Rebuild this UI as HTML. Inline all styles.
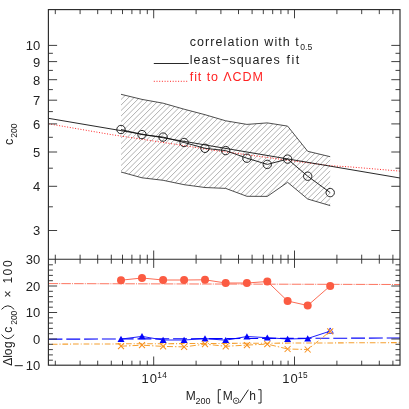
<!DOCTYPE html><html><head><meta charset="utf-8"><style>html,body{margin:0;padding:0;background:#fff}body{width:409px;height:409px;position:relative;overflow:hidden;font-family:"Liberation Sans",sans-serif}</style></head><body><svg width="409" height="409" viewBox="0 0 409 409" style="position:absolute;left:0;top:0;will-change:transform">
<defs><pattern id="h" width="2.7" height="2.7" patternUnits="userSpaceOnUse"><path d="M-0.5,3.2 L3.2,-0.5 M-0.5,0.5 L0.5,-0.5 M2.2,3.2 L3.2,2.2" stroke="#555" stroke-width="0.5" fill="none"/></pattern></defs>
<clipPath id="cp"><polygon points="121.0,94.3 142.0,99.4 163.1,103.2 184.1,109.2 205.0,114.7 225.7,120.8 246.9,124.4 267.3,122.9 287.6,126.1 307.7,151.3 330.2,156.7 330.2,205.6 307.7,199.0 287.6,182.3 267.3,196.4 246.9,196.3 225.7,188.4 205.0,187.5 184.1,184.7 163.1,180.3 142.0,177.8 121.0,172.0"/></clipPath>
<path d="M144.1,60.0 L-25.9,230.0 M149.6,60.0 L-20.4,230.0 M155.1,60.0 L-14.9,230.0 M160.6,60.0 L-9.4,230.0 M166.1,60.0 L-3.9,230.0 M171.6,60.0 L1.6,230.0 M177.1,60.0 L7.1,230.0 M182.6,60.0 L12.6,230.0 M188.1,60.0 L18.1,230.0 M193.6,60.0 L23.6,230.0 M199.1,60.0 L29.1,230.0 M204.6,60.0 L34.6,230.0 M210.1,60.0 L40.1,230.0 M215.6,60.0 L45.6,230.0 M221.1,60.0 L51.1,230.0 M226.6,60.0 L56.6,230.0 M232.1,60.0 L62.1,230.0 M237.6,60.0 L67.6,230.0 M243.1,60.0 L73.1,230.0 M248.6,60.0 L78.6,230.0 M254.1,60.0 L84.1,230.0 M259.6,60.0 L89.6,230.0 M265.1,60.0 L95.1,230.0 M270.6,60.0 L100.6,230.0 M276.1,60.0 L106.1,230.0 M281.6,60.0 L111.6,230.0 M287.1,60.0 L117.1,230.0 M292.6,60.0 L122.6,230.0 M298.1,60.0 L128.1,230.0 M303.6,60.0 L133.6,230.0 M309.1,60.0 L139.1,230.0 M314.6,60.0 L144.6,230.0 M320.1,60.0 L150.1,230.0 M325.6,60.0 L155.6,230.0 M331.1,60.0 L161.1,230.0 M336.6,60.0 L166.6,230.0 M342.1,60.0 L172.1,230.0 M347.6,60.0 L177.6,230.0 M353.1,60.0 L183.1,230.0 M358.6,60.0 L188.6,230.0 M364.1,60.0 L194.1,230.0 M369.6,60.0 L199.6,230.0 M375.1,60.0 L205.1,230.0 M380.6,60.0 L210.6,230.0 M386.1,60.0 L216.1,230.0 M391.6,60.0 L221.6,230.0 M397.1,60.0 L227.1,230.0 M402.6,60.0 L232.6,230.0 M408.1,60.0 L238.1,230.0 M413.6,60.0 L243.6,230.0 M419.1,60.0 L249.1,230.0 M424.6,60.0 L254.6,230.0 M430.1,60.0 L260.1,230.0 M435.6,60.0 L265.6,230.0 M441.1,60.0 L271.1,230.0 M446.6,60.0 L276.6,230.0 M452.1,60.0 L282.1,230.0 M457.6,60.0 L287.6,230.0 M463.1,60.0 L293.1,230.0 M468.6,60.0 L298.6,230.0 M474.1,60.0 L304.1,230.0 M479.6,60.0 L309.6,230.0 M485.1,60.0 L315.1,230.0 M490.6,60.0 L320.6,230.0 M496.1,60.0 L326.1,230.0" stroke="#606060" stroke-width="0.5" fill="none" clip-path="url(#cp)"/>
<polyline points="121.0,94.3 142.0,99.4 163.1,103.2 184.1,109.2 205.0,114.7 225.7,120.8 246.9,124.4 267.3,122.9 287.6,126.1 307.7,151.3 330.2,156.7" fill="none" stroke="#222" stroke-width="0.8"/>
<polyline points="121.0,172.0 142.0,177.8 163.1,180.3 184.1,184.7 205.0,187.5 225.7,188.4 246.9,196.3 267.3,196.4 287.6,182.3 307.7,199.0 330.2,205.6" fill="none" stroke="#222" stroke-width="0.8"/>
<polyline points="48.5,123.8 110.0,134.4 190.0,146.5 210.0,149.8 287.8,160.2 309.0,163.0 330.0,165.7 350.0,166.9 400.0,171.1" fill="none" stroke="#f22" stroke-width="1" stroke-dasharray="1,1.7"/>
<line x1="48.4" y1="118.3" x2="400" y2="178" stroke="#111" stroke-width="0.9"/>
<polyline points="121.0,129.5 142.0,134.6 163.1,137.1 184.1,142.5 205.0,148.3 225.7,150.6 246.9,158.2 267.3,164.4 287.6,159.1 307.7,176.2 330.2,192.6" fill="none" stroke="#111" stroke-width="0.9"/>
<circle cx="121.0" cy="129.5" r="4.2" fill="none" stroke="#111" stroke-width="0.9"/>
<circle cx="142.0" cy="134.6" r="4.2" fill="none" stroke="#111" stroke-width="0.9"/>
<circle cx="163.1" cy="137.1" r="4.2" fill="none" stroke="#111" stroke-width="0.9"/>
<circle cx="184.1" cy="142.5" r="4.2" fill="none" stroke="#111" stroke-width="0.9"/>
<circle cx="205.0" cy="148.3" r="4.2" fill="none" stroke="#111" stroke-width="0.9"/>
<circle cx="225.7" cy="150.6" r="4.2" fill="none" stroke="#111" stroke-width="0.9"/>
<circle cx="246.9" cy="158.2" r="4.2" fill="none" stroke="#111" stroke-width="0.9"/>
<circle cx="267.3" cy="164.4" r="4.2" fill="none" stroke="#111" stroke-width="0.9"/>
<circle cx="287.6" cy="159.1" r="4.2" fill="none" stroke="#111" stroke-width="0.9"/>
<circle cx="307.7" cy="176.2" r="4.2" fill="none" stroke="#111" stroke-width="0.9"/>
<circle cx="330.2" cy="192.6" r="4.2" fill="none" stroke="#111" stroke-width="0.9"/>
<line x1="48.5" y1="283.6" x2="400" y2="284.5" stroke="#fb5b42" stroke-width="0.85" stroke-dasharray="9.6,1.1,1,1.1"/>
<line x1="48.5" y1="339.2" x2="400" y2="338" stroke="#0505fa" stroke-width="1.1" stroke-dasharray="13.9,3.9"/>
<line x1="48.5" y1="344.2" x2="400" y2="342.6" stroke="#f5a030" stroke-width="1.05" stroke-dasharray="5.7,2,1,1.9" stroke-dashoffset="7.3"/>
<polyline points="121.0,280.2 142.0,278.0 163.1,280.0 184.1,280.0 205.0,279.8 225.7,283.0 246.9,283.0 267.3,281.5 287.6,301.0 307.7,305.5 330.2,285.9" fill="none" stroke="#fb5b42" stroke-width="0.9"/>
<circle cx="121.0" cy="280.2" r="4" fill="#fb5b42"/>
<circle cx="142.0" cy="278.0" r="4" fill="#fb5b42"/>
<circle cx="163.1" cy="280.0" r="4" fill="#fb5b42"/>
<circle cx="184.1" cy="280.0" r="4" fill="#fb5b42"/>
<circle cx="205.0" cy="279.8" r="4" fill="#fb5b42"/>
<circle cx="225.7" cy="283.0" r="4" fill="#fb5b42"/>
<circle cx="246.9" cy="283.0" r="4" fill="#fb5b42"/>
<circle cx="267.3" cy="281.5" r="4" fill="#fb5b42"/>
<circle cx="287.6" cy="301.0" r="4" fill="#fb5b42"/>
<circle cx="307.7" cy="305.5" r="4" fill="#fb5b42"/>
<circle cx="330.2" cy="285.9" r="4" fill="#fb5b42"/>
<polyline points="121.0,339.1 142.0,336.4 163.1,340.0 184.1,340.0 205.0,338.6 225.7,340.2 246.9,336.5 267.3,337.7 287.6,339.0 307.7,338.5 330.2,331.1" fill="none" stroke="#0505fa" stroke-width="0.9"/>
<polygon points="121.0,335.8 117.5,342.0 124.5,342.0" fill="#0505fa"/>
<polygon points="142.0,333.1 138.5,339.3 145.5,339.3" fill="#0505fa"/>
<polygon points="163.1,336.7 159.6,342.9 166.6,342.9" fill="#0505fa"/>
<polygon points="184.1,336.7 180.6,342.9 187.6,342.9" fill="#0505fa"/>
<polygon points="205.0,335.3 201.5,341.5 208.5,341.5" fill="#0505fa"/>
<polygon points="225.7,336.9 222.2,343.1 229.2,343.1" fill="#0505fa"/>
<polygon points="246.9,333.2 243.4,339.4 250.4,339.4" fill="#0505fa"/>
<polygon points="267.3,334.4 263.8,340.6 270.8,340.6" fill="#0505fa"/>
<polygon points="287.6,335.7 284.1,341.9 291.1,341.9" fill="#0505fa"/>
<polygon points="307.7,335.2 304.2,341.4 311.2,341.4" fill="#0505fa"/>
<polygon points="330.2,327.9 327.1,333.3 333.3,333.3" fill="none" stroke="#0505fa" stroke-width="0.8"/>
<polyline points="121.0,346.2 142.0,345.2 163.1,346.4 184.1,346.9 205.0,344.1 225.7,346.3 246.9,345.1 267.3,344.1 287.6,349.0 307.7,349.5 330.2,331.3" fill="none" stroke="#f5a030" stroke-width="1" stroke-dasharray="6,2,1.5,2"/>
<path d="M118.0,343.2 l6,6 m0,-6 l-6,6" stroke="#f8901c" stroke-width="1.05" fill="none"/>
<path d="M139.0,342.2 l6,6 m0,-6 l-6,6" stroke="#f8901c" stroke-width="1.05" fill="none"/>
<path d="M160.1,343.4 l6,6 m0,-6 l-6,6" stroke="#f8901c" stroke-width="1.05" fill="none"/>
<path d="M181.1,343.9 l6,6 m0,-6 l-6,6" stroke="#f8901c" stroke-width="1.05" fill="none"/>
<path d="M202.0,341.1 l6,6 m0,-6 l-6,6" stroke="#f8901c" stroke-width="1.05" fill="none"/>
<path d="M222.7,343.3 l6,6 m0,-6 l-6,6" stroke="#f8901c" stroke-width="1.05" fill="none"/>
<path d="M243.9,342.1 l6,6 m0,-6 l-6,6" stroke="#f8901c" stroke-width="1.05" fill="none"/>
<path d="M264.3,341.1 l6,6 m0,-6 l-6,6" stroke="#f8901c" stroke-width="1.05" fill="none"/>
<path d="M284.6,346.0 l6,6 m0,-6 l-6,6" stroke="#f8901c" stroke-width="1.05" fill="none"/>
<path d="M304.7,346.5 l6,6 m0,-6 l-6,6" stroke="#f8901c" stroke-width="1.05" fill="none"/>
<path d="M327.2,328.3 l6,6 m0,-6 l-6,6" stroke="#f8901c" stroke-width="1.05" fill="none"/>
<rect x="48.4" y="9.6" width="351.6" height="355.6" fill="none" stroke="#2a2a2a" stroke-width="1.15"/>
<line x1="48.4" y1="259.2" x2="400.0" y2="259.2" stroke="#2a2a2a" stroke-width="1.15"/>
<path d="M55.3,9.6 v4.5 M55.3,254.7 v9.0 M55.3,365.2 v-4.5 M80.1,9.6 v4.5 M80.1,254.7 v9.0 M80.1,365.2 v-4.5 M97.7,9.6 v4.5 M97.7,254.7 v9.0 M97.7,365.2 v-4.5 M111.3,9.6 v4.5 M111.3,254.7 v9.0 M111.3,365.2 v-4.5 M122.5,9.6 v4.5 M122.5,254.7 v9.0 M122.5,365.2 v-4.5 M131.9,9.6 v4.5 M131.9,254.7 v9.0 M131.9,365.2 v-4.5 M140.1,9.6 v4.5 M140.1,254.7 v9.0 M140.1,365.2 v-4.5 M147.3,9.6 v4.5 M147.3,254.7 v9.0 M147.3,365.2 v-4.5 M153.7,9.6 v8.7 M153.7,250.5 v17.4 M153.7,365.2 v-8.7 M196.1,9.6 v4.5 M196.1,254.7 v9.0 M196.1,365.2 v-4.5 M220.9,9.6 v4.5 M220.9,254.7 v9.0 M220.9,365.2 v-4.5 M238.5,9.6 v4.5 M238.5,254.7 v9.0 M238.5,365.2 v-4.5 M252.1,9.6 v4.5 M252.1,254.7 v9.0 M252.1,365.2 v-4.5 M263.3,9.6 v4.5 M263.3,254.7 v9.0 M263.3,365.2 v-4.5 M272.7,9.6 v4.5 M272.7,254.7 v9.0 M272.7,365.2 v-4.5 M280.9,9.6 v4.5 M280.9,254.7 v9.0 M280.9,365.2 v-4.5 M288.1,9.6 v4.5 M288.1,254.7 v9.0 M288.1,365.2 v-4.5 M294.5,9.6 v8.7 M294.5,250.5 v17.4 M294.5,365.2 v-8.7 M336.9,9.6 v4.5 M336.9,254.7 v9.0 M336.9,365.2 v-4.5 M361.7,9.6 v4.5 M361.7,254.7 v9.0 M361.7,365.2 v-4.5 M379.3,9.6 v4.5 M379.3,254.7 v9.0 M379.3,365.2 v-4.5 M392.9,9.6 v4.5 M392.9,254.7 v9.0 M392.9,365.2 v-4.5 M48.4,230.5 h8.7 M400.0,230.5 h-8.7 M48.4,206.8 h4.5 M400.0,206.8 h-4.5 M48.4,186.3 h8.7 M400.0,186.3 h-8.7 M48.4,168.2 h4.5 M400.0,168.2 h-4.5 M48.4,152.0 h8.7 M400.0,152.0 h-8.7 M48.4,137.3 h4.5 M400.0,137.3 h-4.5 M48.4,123.9 h8.7 M400.0,123.9 h-8.7 M48.4,111.6 h4.5 M400.0,111.6 h-4.5 M48.4,100.2 h8.7 M400.0,100.2 h-8.7 M48.4,89.6 h4.5 M400.0,89.6 h-4.5 M48.4,79.7 h8.7 M400.0,79.7 h-8.7 M48.4,70.4 h4.5 M400.0,70.4 h-4.5 M48.4,61.6 h8.7 M400.0,61.6 h-8.7 M48.4,53.3 h4.5 M400.0,53.3 h-4.5 M48.4,45.4 h8.7 M400.0,45.4 h-8.7 M48.4,360.2 h4.5 M400.0,360.2 h-4.5 M48.4,354.9 h4.5 M400.0,354.9 h-4.5 M48.4,349.6 h4.5 M400.0,349.6 h-4.5 M48.4,344.3 h4.5 M400.0,344.3 h-4.5 M48.4,339.0 h8.7 M400.0,339.0 h-8.7 M48.4,333.7 h4.5 M400.0,333.7 h-4.5 M48.4,328.4 h4.5 M400.0,328.4 h-4.5 M48.4,323.1 h4.5 M400.0,323.1 h-4.5 M48.4,317.8 h4.5 M400.0,317.8 h-4.5 M48.4,312.5 h8.7 M400.0,312.5 h-8.7 M48.4,307.2 h4.5 M400.0,307.2 h-4.5 M48.4,301.9 h4.5 M400.0,301.9 h-4.5 M48.4,296.6 h4.5 M400.0,296.6 h-4.5 M48.4,291.3 h4.5 M400.0,291.3 h-4.5 M48.4,286.0 h8.7 M400.0,286.0 h-8.7 M48.4,280.7 h4.5 M400.0,280.7 h-4.5 M48.4,275.4 h4.5 M400.0,275.4 h-4.5 M48.4,270.1 h4.5 M400.0,270.1 h-4.5 M48.4,264.8 h4.5 M400.0,264.8 h-4.5" stroke="#2a2a2a" stroke-width="0.9" fill="none"/>
<line x1="153.8" y1="63.5" x2="188.8" y2="63.5" stroke="#111" stroke-width="0.9"/>
<line x1="153.8" y1="81.3" x2="188.8" y2="81.3" stroke="#f22" stroke-width="1" stroke-dasharray="1,1.7"/>
<g font-family="Liberation Sans, sans-serif" fill="#222">
<text x="40.3" y="235.4" font-size="13" text-anchor="end">3</text>
<text x="40.3" y="191.2" font-size="13" text-anchor="end">4</text>
<text x="40.3" y="156.9" font-size="13" text-anchor="end">5</text>
<text x="40.3" y="128.8" font-size="13" text-anchor="end">6</text>
<text x="40.3" y="105.1" font-size="13" text-anchor="end">7</text>
<text x="40.3" y="84.6" font-size="13" text-anchor="end">8</text>
<text x="40.3" y="66.5" font-size="13" text-anchor="end">9</text>
<text x="40.3" y="50.3" font-size="13" text-anchor="end">10</text>
<line x1="14.7" y1="365.7" x2="22.8" y2="365.7" stroke="#222" stroke-width="1"/>
<text x="40.3" y="370.4" font-size="13" text-anchor="end">10</text>
<text x="40.3" y="343.9" font-size="13" text-anchor="end">0</text>
<text x="40.3" y="317.4" font-size="13" text-anchor="end">10</text>
<text x="40.3" y="290.9" font-size="13" text-anchor="end">20</text>
<text x="40.3" y="264.4" font-size="13" text-anchor="end">30</text>
<text x="141.5 149.8" y="382.6" font-size="13">10</text>
<text x="157.3" y="378.2" font-size="8.3" letter-spacing="0.4">14</text>
<text x="282.3 290.6" y="382.6" font-size="13">10</text>
<text x="298.1" y="378.2" font-size="8.3" letter-spacing="0.4">15</text>
<text x="189.8" y="45.5" font-size="12.5" textLength="109" lengthAdjust="spacing">correlation with t</text>
<text x="300.3" y="49.8" font-size="8.6">0.5</text>
<text x="189.8" y="63.5" font-size="12.5" textLength="90" lengthAdjust="spacing">least−squares</text>
<text x="286.6" y="63.5" font-size="12.5" textLength="12.6" lengthAdjust="spacing">fit</text>
<text x="189.8" y="81.2" font-size="12.5" fill="#f22" textLength="73" lengthAdjust="spacing">fit to ΛCDM</text>
<text x="185.7" y="400" font-size="12">M</text>
<text x="195.6" y="403.6" font-size="9">200</text>
<text x="222.7" y="400" font-size="12">M</text>
<circle cx="236.1" cy="400.8" r="2.8" fill="none" stroke="#222" stroke-width="0.8"/><circle cx="236.1" cy="400.8" r="0.7" fill="#222"/>
<text x="249.3" y="400" font-size="12">h</text>
<path d="M221,389.7 H218.3 V403 H221 M258.2,389.7 H261 V403 H258.2 M239.6,403 L248.4,389.7" fill="none" stroke="#222" stroke-width="1"/>
<g transform="translate(12.9,145) rotate(-90)"><text x="0" y="0" font-size="12.5">c</text><text x="7.3" y="3.8" font-size="8.5">200</text></g>
<g transform="translate(12.4,363.6) rotate(-90)">
<path d="M29,-10.9 Q20.8,-4.55 29,1.8 M54.2,-10.9 Q61.4,-4.55 54.2,1.8" fill="none" stroke="#222" stroke-width="1"/>
<text x="-2.2" y="0.0" font-size="12.0">Δ</text>
<text x="5.8" y="0.0" font-size="12.0">l</text>
<text x="8.4" y="0.0" font-size="12.0">o</text>
<text x="15.7" y="0.0" font-size="12.0">g</text>
<text x="30.8" y="0.0" font-size="12.0">c</text>
<text x="38.8" y="4.4" font-size="8.5">2</text>
<text x="43.5" y="4.4" font-size="8.5">0</text>
<text x="48.2" y="4.4" font-size="8.5">0</text>
<text x="66.0" y="0.0" font-size="12.0">×</text>
<text x="80.2" y="0.0" font-size="12.0">1</text>
<text x="88.0" y="0.0" font-size="12.0">0</text>
<text x="96.6" y="0.0" font-size="12.0">0</text>
</g>
</g>
</svg></body></html>
